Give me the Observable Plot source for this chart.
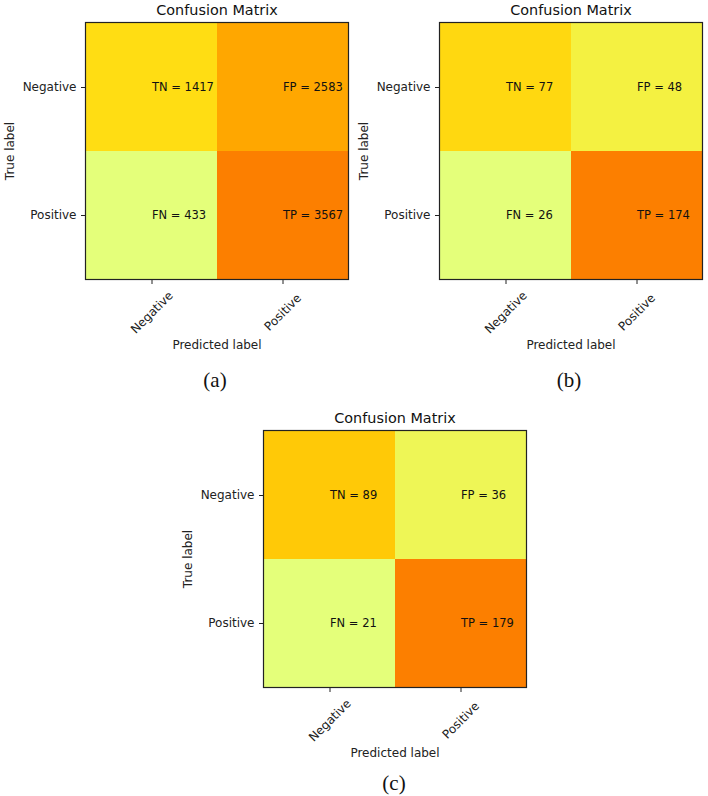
<!DOCTYPE html>
<html>
<head>
<meta charset="utf-8">
<script src="https://cdn.jsdelivr.net/npm/d3@7"></script>
<script src="https://cdn.jsdelivr.net/npm/@observablehq/plot@0.6"></script>
<style>
  html, body { margin: 0; padding: 0; background: #fff; }
  #root { position: relative; width: 708px; height: 796px; overflow: hidden; font-family: "DejaVu Sans", sans-serif; color: #222; }
  .panel { position: absolute; }
  .caption { position: absolute; font-family: "Liberation Serif", "Times New Roman", serif; font-size: 21px; color: #111; transform: translate(-50%, -50%); white-space: nowrap; }
</style>
</head>
<body>
<div id="root"></div>
<script>
// ---- data ----
const classLabels = ["Negative", "Positive"];
const cellCodes = ["TN", "FP", "FN", "TP"];
const trueOf = ["Negative", "Negative", "Positive", "Positive"];
const predOf = ["Negative", "Positive", "Negative", "Positive"];
const valuesA = [1417, 2583, 433, 3567];
const valuesB = [77, 48, 26, 174];
const valuesC = [89, 36, 21, 179];
const panelTitle = "Confusion Matrix";
const captions = ["(a)", "(b)", "(c)"];
const wistia = ["#e4ff7a", "#ffe81a", "#ffbd00", "#ffa000", "#fc7f00"];

function rows(values) {
  return values.map((v, i) => ({code: cellCodes[i], actual: trueOf[i], predicted: predOf[i], value: v}));
}

function matrix(values) {
  const data = rows(values);
  return Plot.plot({
    width: 354,
    height: 360,
    marginLeft: 85,
    marginRight: 6,
    marginTop: 22,
    marginBottom: 81,
    style: {fontFamily: "DejaVu Sans, sans-serif", fontSize: "12px", color: "#222", background: "transparent", overflow: "visible"},
    x: {domain: classLabels, padding: 0},
    y: {domain: classLabels, padding: 0},
    color: {type: "linear", domain: d3.extent(values), interpolate: d3.piecewise(d3.interpolateRgb, wistia)},
    marks: [
      Plot.cell(data, {x: "predicted", y: "actual", fill: "value", inset: 0}),
      Plot.text(data, {x: "predicted", y: "actual", text: d => `${d.code} = ${d.value}`, textAnchor: "start", lineAnchor: "middle", fontSize: 11.5, fill: "#111"}),
      Plot.frame({stroke: "#222", strokeWidth: 1.2}),
      Plot.axisY({tickSize: 4, tickPadding: 5, fontSize: 12, label: null}),
      Plot.axisX({tickSize: 5, tickFormat: () => "", label: null}),
      Plot.text(classLabels, {x: d => d, text: d => d, frameAnchor: "bottom", dy: 33, rotate: -45, textAnchor: "middle", lineAnchor: "middle", fontSize: 12, fill: "#222"}),
      Plot.text(["Predicted label"], {frameAnchor: "bottom", dy: 66, text: d => d, fontSize: 12, fill: "#222", textAnchor: "middle", lineAnchor: "middle"}),
      Plot.text(["True label"], {frameAnchor: "left", dx: -75, rotate: -90, text: d => d, fontSize: 12, fill: "#222", textAnchor: "middle", lineAnchor: "middle"}),
      Plot.text([panelTitle], {frameAnchor: "top", dy: -12, text: d => d, fontSize: 14.4, fill: "#111", textAnchor: "middle", lineAnchor: "middle"})
    ]
  });
}

const root = document.getElementById("root");
const layout = [
  {values: valuesA, left: 0, top: 0, cx: 215, cy: 380},
  {values: valuesB, left: 354, top: 0, cx: 569, cy: 380},
  {values: valuesC, left: 178, top: 408, cx: 394, cy: 783}
];
layout.forEach((p, i) => {
  const div = document.createElement("div");
  div.className = "panel";
  div.style.left = p.left + "px";
  div.style.top = p.top + "px";
  div.appendChild(matrix(p.values));
  root.appendChild(div);
  const cap = document.createElement("div");
  cap.className = "caption";
  cap.style.left = p.cx + "px";
  cap.style.top = p.cy + "px";
  cap.textContent = captions[i];
  root.appendChild(cap);
});
</script>
</body>
</html>
